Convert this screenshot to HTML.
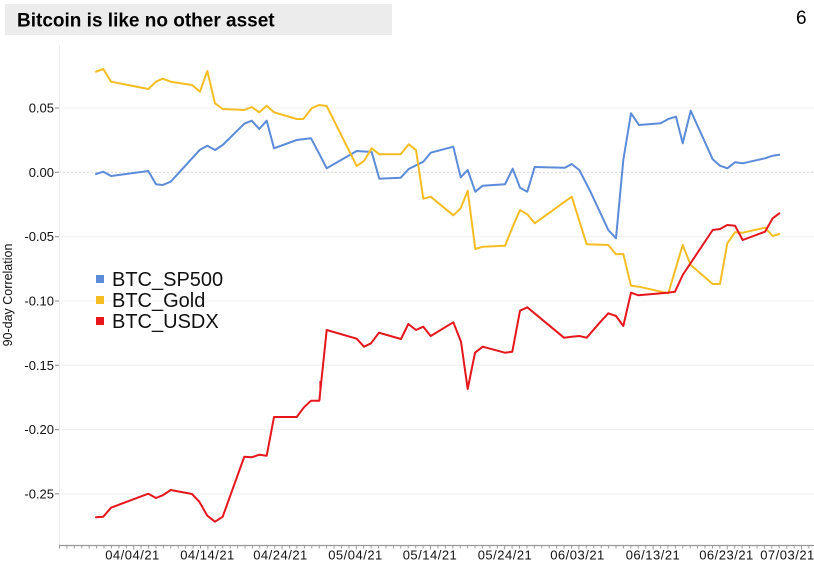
<!DOCTYPE html>
<html>
<head>
<meta charset="utf-8">
<style>
html,body{margin:0;padding:0;background:#fff;}
body{width:814px;height:564px;overflow:hidden;position:relative;font-family:"Liberation Sans",Arial,sans-serif;}
svg{position:absolute;left:0;top:0;}
</style>
</head>
<body>
<svg width="814" height="564" viewBox="0 0 814 564" xmlns="http://www.w3.org/2000/svg">
  <rect x="5" y="4" width="387" height="31" fill="#ececec"/>
  <text x="17" y="26.5" font-family="Liberation Sans, Arial, sans-serif" font-weight="bold" font-size="19" fill="#000">Bitcoin is like no other asset</text>
  <text x="796" y="24" font-family="Liberation Sans, Arial, sans-serif" font-size="19" fill="#000">6</text>

  <path d="M59 108H814M59 236.7H814M59 301H814M59 365.3H814M59 429.6H814M59 493.9H814" stroke="#f0f0f0" stroke-width="1" fill="none"/>
  <line x1="59" y1="172.3" x2="814" y2="172.3" stroke="#cfcfcf" stroke-width="1" stroke-dasharray="2,2"/>
  <line x1="59.5" y1="45" x2="59.5" y2="545" stroke="#ececec" stroke-width="1"/>

  <path d="M55 108H59M55 172.3H59M55 236.7H59M55 301H59M55 365.3H59M55 429.6H59M55 493.9H59" stroke="#888" stroke-width="1" fill="none"/>
  <g font-family="Liberation Sans, Arial, sans-serif" font-size="13" fill="#111" text-anchor="end">
    <text x="54" y="112.5">0.05</text>
    <text x="54" y="176.8">0.00</text>
    <text x="54" y="241.2">-0.05</text>
    <text x="54" y="305.5">-0.10</text>
    <text x="54" y="369.8">-0.15</text>
    <text x="54" y="434.1">-0.20</text>
    <text x="54" y="498.4">-0.25</text>
  </g>
  <text transform="translate(12,295) rotate(-90)" text-anchor="middle" font-family="Liberation Sans, Arial, sans-serif" font-size="12.5" fill="#111">90-day Correlation</text>

  <line x1="59" y1="545.5" x2="814" y2="545.5" stroke="#999" stroke-width="1.2"/>
  <path stroke="#999" stroke-width="1" fill="none" d="M59.5 545v3.5M66.9 545v3.5M74.3 545v3.5M81.8 545v3.5M89.2 545v3.5M96.6 545v3.5M104 545v3.5M111.4 545v3.5M118.9 545v3.5M126.3 545v3.5M133.7 545v4.5M141.1 545v3.5M148.5 545v3.5M156 545v3.5M163.4 545v3.5M170.8 545v3.5M178.2 545v3.5M185.6 545v3.5M193.1 545v3.5M200.5 545v3.5M207.9 545v4.5M215.3 545v3.5M222.7 545v3.5M230.2 545v3.5M237.6 545v3.5M245 545v3.5M252.4 545v3.5M259.8 545v3.5M267.3 545v3.5M274.7 545v3.5M282.1 545v4.5M289.5 545v3.5M296.9 545v3.5M304.4 545v3.5M311.8 545v3.5M319.2 545v3.5M326.6 545v3.5M334 545v3.5M341.5 545v3.5M348.9 545v3.5M356.3 545v4.5M363.7 545v3.5M371.1 545v3.5M378.6 545v3.5M386 545v3.5M393.4 545v3.5M400.8 545v3.5M408.2 545v3.5M415.7 545v3.5M423.1 545v3.5M430.5 545v4.5M437.9 545v3.5M445.3 545v3.5M452.8 545v3.5M460.2 545v3.5M467.6 545v3.5M475 545v3.5M482.4 545v3.5M489.9 545v3.5M497.3 545v3.5M504.7 545v4.5M512.1 545v3.5M519.5 545v3.5M527 545v3.5M534.4 545v3.5M541.8 545v3.5M549.2 545v3.5M556.6 545v3.5M564.1 545v3.5M571.5 545v3.5M578.9 545v4.5M586.3 545v3.5M593.7 545v3.5M601.2 545v3.5M608.6 545v3.5M616 545v3.5M623.4 545v3.5M630.8 545v3.5M638.3 545v3.5M645.7 545v3.5M653.1 545v4.5M660.5 545v3.5M667.9 545v3.5M675.4 545v3.5M682.8 545v3.5M690.2 545v3.5M697.6 545v3.5M705 545v3.5M712.5 545v3.5M719.9 545v3.5M727.3 545v4.5M734.7 545v3.5M742.1 545v3.5M749.6 545v3.5M757 545v3.5M764.4 545v3.5M771.8 545v3.5M779.2 545v3.5M786.7 545v3.5M794.1 545v3.5M801.5 545v4.5M808.9 545v3.5"/>
  <g font-family="Liberation Sans, Arial, sans-serif" font-size="13" fill="#111" text-anchor="middle" letter-spacing="0.5">
    <text x="132.5" y="559.5">04/04/21</text>
    <text x="207.5" y="559.5">04/14/21</text>
    <text x="280.5" y="559.5">04/24/21</text>
    <text x="355.5" y="559.5">05/04/21</text>
    <text x="430" y="559.5">05/14/21</text>
    <text x="505" y="559.5">05/24/21</text>
    <text x="577.5" y="559.5">06/03/21</text>
    <text x="653" y="559.5">06/13/21</text>
    <text x="726.5" y="559.5">06/23/21</text>
    <text x="787.5" y="559.5">07/03/21</text>
  </g>

  <g fill="none" stroke-width="2" stroke-linejoin="round" stroke-linecap="round">
    <polyline stroke="#5b8bd9" points="96,174 103.3,171.7 111,176 148.3,171 156,184.3 162.7,185 170.7,181.7 200,149.7 207.3,145.7 215,150 222.7,145 244.3,123.7 251.7,120.7 259.3,129 266.7,120.7 274,148.3 296.7,140 311,138.3 319,153.3 326.7,168.3 356.7,151 371.7,152 379.3,178.7 400.7,177.7 408.7,169 423.3,161.7 430.7,152.7 453.3,146.7 460.7,177.3 467.7,170 475.3,191.7 482.7,185.7 505,184.3 512.7,168.7 520,187.7 527.3,191.7 534.7,167 565,167.7 571.7,164 579.3,170 590,190.7 608.3,230 616,238.3 623.3,160 631,113.3 639,125 660.7,123.3 668.3,119 676,116.7 682.7,143.3 690.7,110.7 712.7,159.3 720,165.7 727.3,168.3 735,162.3 742.7,163.3 765,158.3 772.7,155.7 779.3,154.7"/>
    <polyline stroke="#f6bd23" points="96,71.7 103.3,69 111,81.7 148.3,89 156,81.7 162.7,78.7 170.7,81.7 192,85 200,91.7 207.3,71 215,103.3 222.7,109 244.3,110 251.7,107 259.3,112.3 266.7,105.7 274,112.3 296.7,119 303.3,119 311.7,108.3 319,105 326.7,106 356.7,166 364,161 371.7,148.3 379.3,154.3 400.7,154.3 408.7,144.3 416,150 423.3,198.7 430.7,196.7 453.3,215.3 460.7,208.3 467.7,190.7 475.3,249 482.7,246.7 505,245.7 512.7,226.7 520,210 527.3,214.3 534.7,223.3 571.7,196.7 586.7,244.3 608.3,245 616,254.3 623.3,254 631,285.7 639,286.7 668.3,293.3 682.7,245 690.7,265 712.7,284 720,284 727.3,243.3 735,232.3 742.7,232.7 765,227.7 772.7,236 779.3,234"/>
    <polyline stroke="#e5161c" points="96,517.3 103.3,516.7 111,507.7 148.3,493.7 156,498 162.7,495.3 170.7,490 192,494 199.3,501.7 207.3,515.7 215,521.7 222.7,516.7 244.3,456.7 251.7,457.3 259.3,454.7 266.7,455.7 274,417 296.7,417 304,407.3 311,400.7 319.3,400.7 326.7,330 356.7,338.7 364,346.7 371,343.3 379,332.7 401,339 408.3,324 416,330 423.3,326.7 430.7,336 453.3,322.3 461,341.7 467.7,389 475,352.7 482.7,346.7 505,352.7 512.3,351.7 520,310.7 527.3,307.3 564,337.7 571.7,336.7 579.3,336 586.7,337.7 600,322.3 608.3,313.3 616,316 623.3,326 631,292.7 638.3,295.3 667.3,292.7 675,291.7 682.7,275 712.7,230 720,229 727.3,225 735,225.7 742.7,240 765,231.7 772.7,218.3 779.3,213.3"/>
  </g>
  <line x1="320" y1="381" x2="320" y2="400" stroke="#e5161c" stroke-width="1.2"/>

  <rect x="96" y="275" width="8" height="8" fill="#5b8bd9"/>
  <rect x="96" y="296" width="8" height="8" fill="#f6bd23"/>
  <rect x="96" y="317" width="8" height="8" fill="#e5161c"/>
  <g font-family="Liberation Sans, Arial, sans-serif" font-size="20" fill="#111">
    <text x="112" y="286">BTC_SP500</text>
    <text x="112" y="307">BTC_Gold</text>
    <text x="112" y="328">BTC_USDX</text>
  </g>
</svg>
</body>
</html>
